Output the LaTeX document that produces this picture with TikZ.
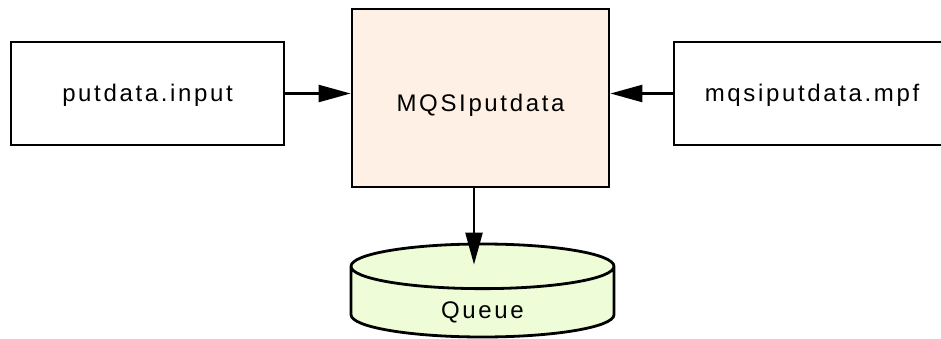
\documentclass[tikz,border=0pt]{standalone}
\usepackage{fontspec}
\setmainfont{Liberation Sans}[LetterSpace=11]
\usetikzlibrary{arrows.meta, shapes.geometric, positioning}
\definecolor{flowfill}{RGB}{254,240,228}
\definecolor{queuefill}{RGB}{238,252,216}
\tikzset{
	filebox/.style={rectangle, draw, line width=2.8pt, fill=white, minimum width=273pt, minimum height=103pt, font=\fontsize{24}{28}\selectfont},
	flowbox/.style={filebox, fill=flowfill, minimum width=257pt, minimum height=178pt},
	queuebox/.style={cylinder, shape border rotate=90, aspect=0.5, draw, line width=2.8pt, fill=queuefill, minimum width=263pt, minimum height=93pt, anchor=shape center, font=\fontsize{24}{28}\selectfont},
	flowline/.style={draw, line width=2.4pt, -{Triangle[length=32pt, width=17pt]}}
}

\begin{document}
\begin{tikzpicture}[x=1pt,y=-1pt]
			\useasboundingbox (0,0) rectangle (941,339);
			% Nodes
			\node[filebox] (input) at (147.5,93.5) {\raisebox{-8.5pt}[0pt][0pt]{putdata.input}};
			\node[flowbox] (flow) at (480.5,98) {\raisebox{-14pt}[0pt][0pt]{MQSIputdata}};
			\node[filebox, minimum width=276pt] (mpf) at (812,93.5) {\raisebox{-8.5pt}[0pt][0pt]{mqsiputdata.mpf}};
			\node[queuebox] (queue) at (482.5,290.5) {\raisebox{-14pt}[0pt][0pt]{Queue}};
			
			% Connections
			\draw[flowline] (input.east) -- (input.east -| flow.west);
			\draw[flowline] (mpf.west) -- (mpf.west -| flow.east);
			\draw[flowline] (flow.south -| 474,0) -- ([yshift=-22pt]queue.top -| 474,0);
		\end{tikzpicture}
\end{document}
